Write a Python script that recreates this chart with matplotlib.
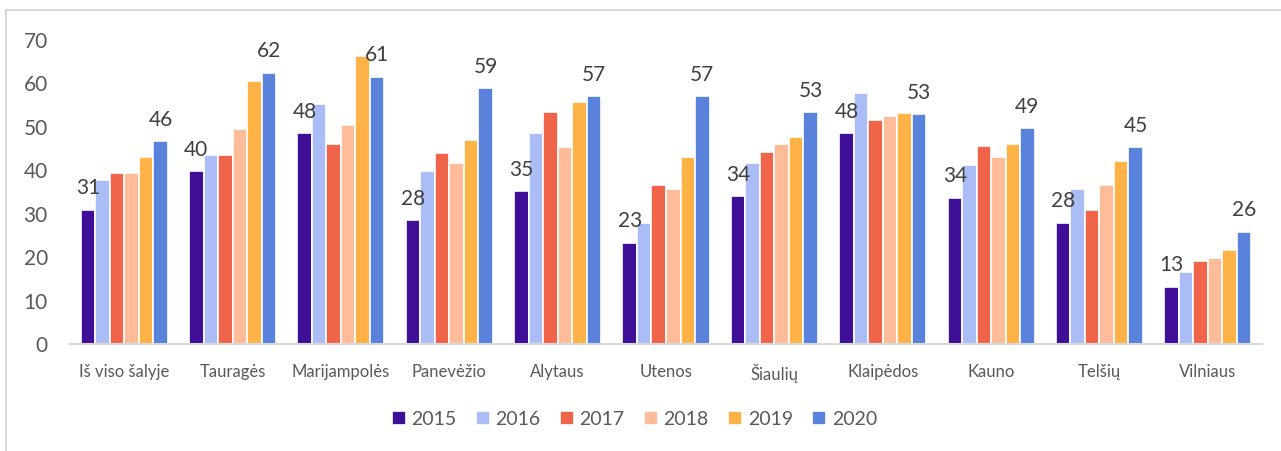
import matplotlib

matplotlib.use("Agg")
import matplotlib.pyplot as plt
import numpy as np
from matplotlib.lines import Line2D

regions = ["Iš viso šalyje", "Tauragės", "Marijampolės", "Panevėžio", "Alytaus", "Utenos",
           "Šiaulių", "Klaipėdos", "Kauno", "Telšių", "Vilniaus"]
years = ["2015", "2016", "2017", "2018", "2019", "2020"]

v2015 = [30.7, 39.5, 48.2, 28.3, 35.0, 23.1, 33.8, 48.2, 33.5, 27.7, 13.0]
v2016 = [37.5, 43.3, 55.0, 39.7, 48.4, 27.7, 41.4, 57.5, 40.9, 35.5, 16.5]
v2017 = [39.2, 43.3, 45.9, 43.7, 53.1, 36.4, 43.9, 51.2, 45.3, 30.6, 19.0]
v2018 = [39.2, 49.2, 50.2, 41.4, 45.1, 35.5, 45.9, 52.1, 42.8, 36.4, 19.6]
v2019 = [42.8, 60.2, 66.0, 46.8, 55.5, 42.9, 47.4, 52.9, 45.8, 41.9, 21.5]
v2020 = [46.4, 62.1, 61.2, 58.6, 56.8, 56.7, 53.1, 52.6, 49.4, 45.0, 25.6]
series = [v2015, v2016, v2017, v2018, v2019, v2020]

colors = ["#3f0f97", "#aabdf7", "#f0654a", "#ffbc98", "#ffb347", "#5882dc"]

plt.rcParams["font.family"] = ["Lato", "DejaVu Sans"]

fig = plt.figure(figsize=(12.81, 4.52), dpi=100)
ax = fig.add_axes([70 / 1281, 1 - 344.5 / 452, 1192 / 1281, 305 / 452])

x = np.arange(len(regions))
step = 0.134
width = 0.134
bars = []
for i, (vals, col, yr) in enumerate(zip(series, colors, years)):
    offs = (i - 2.5) * step
    b = ax.bar(x + offs, vals, width, color=col, edgecolor="white", linewidth=1.2, label=yr, zorder=2)
    bars.append(b)

# data labels only for first and last year
for b in (bars[0], bars[-1]):
    for rect in b:
        h = rect.get_height()
        ax.annotate(f"{h:.0f}", (rect.get_x() + rect.get_width() / 2, h),
                    xytext=(0, 9), textcoords="offset points", ha="center", va="bottom",
                    fontsize=15, color="#404040", zorder=3)

ax.set_xlim(-0.5, len(regions) - 0.5)
ax.set_ylim(0, 70)
ax.set_yticks(range(0, 71, 10))
ax.set_xticks(x)
ax.set_xticklabels(regions)
ax.tick_params(axis="y", length=0, pad=16, labelsize=15, labelcolor="#595959")
ax.tick_params(axis="x", length=0, pad=14, labelsize=12, labelcolor="#595959")
for side in ("top", "right", "left"):
    ax.spines[side].set_visible(False)
ax.spines["bottom"].set_color("#d9d9d9")
ax.spines["bottom"].set_linewidth(1.5)

ax.legend(loc="center", bbox_to_anchor=(634.5 / 1281, 1 - 420 / 452), bbox_transform=fig.transFigure,
          ncol=6, frameon=False, fontsize=14, handlelength=0.7, handleheight=0.7,
          handletextpad=0.3, columnspacing=1.0, labelcolor="#595959")

# outer chart frame (partially visible)
fig.add_artist(Line2D([6 / 1281, 6 / 1281], [0, 1 - 10.5 / 452], transform=fig.transFigure,
                      color="#d9d9d9", linewidth=1.5))
fig.add_artist(Line2D([6 / 1281, 1], [1 - 10.5 / 452, 1 - 10.5 / 452], transform=fig.transFigure,
                      color="#d9d9d9", linewidth=1.5))

fig.savefig("out.png", dpi=100)
plt.close(fig)
